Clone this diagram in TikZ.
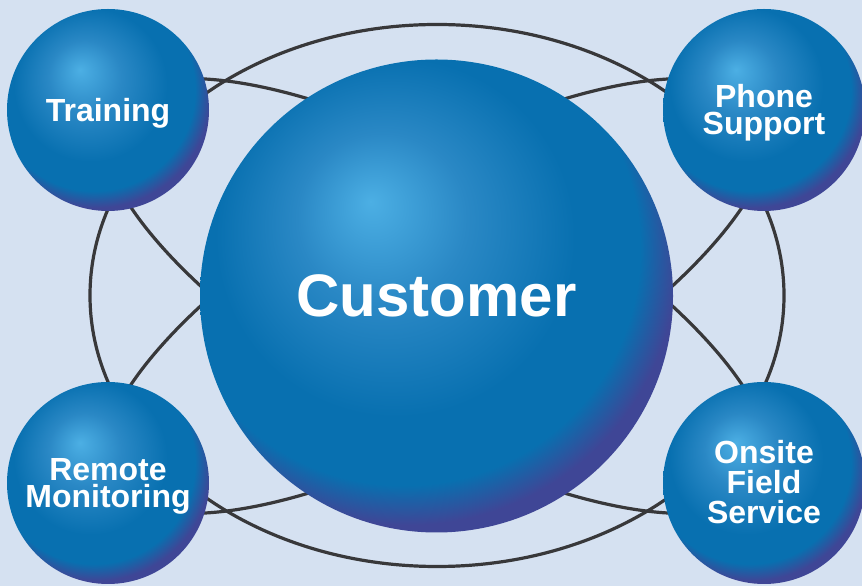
\documentclass[tikz,border=0pt]{standalone}
\usepackage{fontspec}
\setmainfont{Liberation Sans}
\definecolor{bgc}{HTML}{D5E1F1}
\definecolor{hlc}{HTML}{4CAFE4}
\definecolor{midc}{HTML}{2A88C5}
\definecolor{mainc}{HTML}{0870B0}
\definecolor{edgec}{HTML}{3F4696}
\definecolor{linec}{HTML}{38383A}
\pgfdeclareradialshading{orb}{\pgfpoint{-7bp}{10bp}}{%
  color(0bp)=(hlc); color(9bp)=(midc); color(19bp)=(mainc); color(25bp)=(mainc);
  color(28.5bp)=(edgec); color(50bp)=(edgec)}
\tikzset{
  orbit/.style={draw=linec, line width=3.2pt},
  sat/.style={circle, minimum size=202pt, inner sep=0pt, shading=orb},
  lbl/.style={text=white, align=center, inner sep=0pt, font=\bfseries\fontsize{32}{27}\selectfont},
  hub/.style={circle, minimum size=473pt, inner sep=0pt, shading=orb,
    text=white, font=\bfseries\fontsize{60}{60}\selectfont}
}
\begin{document}
\begin{tikzpicture}[x=1pt,y=1pt]
\fill[bgc] (0,0) rectangle (862,586);
\useasboundingbox (0,0) rectangle (862,586);
\coordinate (ctr) at (436.5,290);
\draw[orbit] (437,290.5) ellipse[x radius=347, y radius=271];
\draw[orbit, rotate around={-29.6:(ctr)}] (ctr) ellipse[x radius=376, y radius=130];
\draw[orbit, rotate around={29.6:(ctr)}] (ctr) ellipse[x radius=376, y radius=130];
\node[sat] (train) at (108,476) {};
\node[sat] (phone) at (764,476) {};
\node[sat] (remote) at (108,103) {};
\node[sat] (onsite) at (764,103) {};
\node[lbl] (trainlbl) at ([yshift=-3pt]train.center) {Training};
\node[lbl] (phonelbl) at ([yshift=-3pt]phone.center) {Phone\\Support};
\node[lbl] (remotelbl) at ([yshift=-3pt]remote.center) {Remote\\Monitoring};
\node[lbl, font=\bfseries\fontsize{32}{30}\selectfont] (onsitelbl) at ([yshift=1pt]onsite.center) {Onsite\\Field\\Service};
\node[hub] (cust) at (ctr) {Customer};
\end{tikzpicture}
\end{document}
